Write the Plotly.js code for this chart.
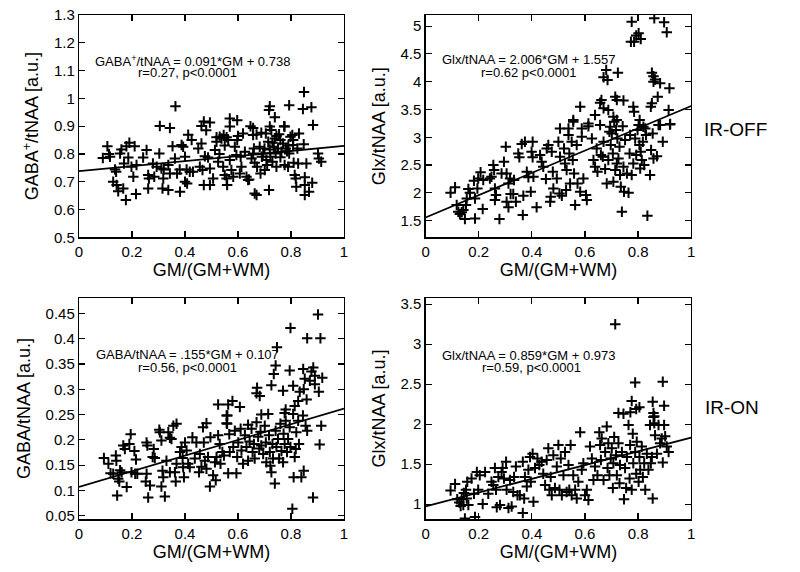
<!DOCTYPE html>
<html>
<head>
<meta charset="utf-8">
<script src="https://cdn.plot.ly/plotly-3.0.1.min.js"></script>
<style>html,body{margin:0;padding:0;background:#fff;}#chart{width:800px;height:572px;}</style>
</head>
<body>
<div id="chart"></div>
<script>
// ---------- DATA ----------
// Panel A: GABA+/tNAA vs GM fraction (IR-OFF)
const gabaOffX = [
0.364,0.305,0.343,0.412,0.462,0.471,0.494,0.48,0.569,0.569,
0.597,0.657,0.72,0.717,0.739,0.793,0.849,0.845,0.877,0.883,
0.776,0.72,0.519,0.557,0.67,0.745,0.808,0.60,0.09,0.107,
0.113,0.117,0.136,0.14,0.129,0.142,0.148,0.167,0.177,0.155,
0.16,0.179,0.19,0.198,0.186,0.205,0.215,0.217,0.21,0.17,
0.242,0.255,0.261,0.264,0.261,0.279,0.284,0.293,0.303,0.311,
0.315,0.318,0.32,0.337,0.337,0.343,0.353,0.362,0.37,0.38,
0.381,0.387,0.393,0.4,0.406,0.4,0.408,0.425,0.418,0.43,
0.45,0.462,0.456,0.466,0.471,0.475,0.487,0.494,0.494,0.506,
0.513,0.519,0.525,0.531,0.538,0.546,0.544,0.55,0.557,0.559,
0.563,0.569,0.575,0.582,0.588,0.594,0.597,0.607,0.613,0.619,
0.626,0.632,0.638,0.642,0.647,0.657,0.651,0.657,0.663,0.663,
0.67,0.672,0.682,0.685,0.688,0.695,0.701,0.705,0.707,0.714,
0.717,0.72,0.722,0.726,0.73,0.735,0.739,0.742,0.745,0.751,
0.755,0.76,0.764,0.77,0.774,0.776,0.78,0.785,0.789,0.793,
0.798,0.805,0.808,0.81,0.814,0.818,0.82,0.827,0.824,0.848,
0.83,0.852,0.852,0.852,0.858,0.868,0.88,0.905,0.914,0.902,
0.70,0.73,0.76,0.79,0.69,0.71,0.66,0.53,0.55,0.61];
const gabaOffY = [
0.972,0.901,0.893,0.869,0.901,0.917,0.913,0.885,0.899,0.928,
0.921,0.893,0.972,0.958,0.932,0.975,1.023,0.962,0.968,0.904,
0.899,0.899,0.86,0.86,0.87,0.865,0.85,0.865,0.785,0.828,
0.80,0.79,0.744,0.736,0.70,0.688,0.666,0.676,0.634,0.802,
0.816,0.828,0.84,0.754,0.787,0.718,0.656,0.76,0.828,0.766,
0.787,0.814,0.724,0.712,0.676,0.766,0.718,0.754,0.802,0.748,
0.676,0.712,0.744,0.67,0.76,0.73,0.828,0.784,0.73,0.744,
0.664,0.832,0.826,0.79,0.744,0.70,0.694,0.85,0.736,0.736,
0.82,0.838,0.754,0.742,0.688,0.792,0.787,0.748,0.688,0.712,
0.814,0.844,0.772,0.862,0.856,0.868,0.754,0.724,0.712,0.688,
0.85,0.778,0.742,0.718,0.826,0.796,0.85,0.73,0.754,0.874,
0.808,0.718,0.706,0.708,0.90,0.868,0.784,0.802,0.768,0.658,
0.652,0.754,0.826,0.73,0.876,0.802,0.742,0.874,0.778,0.844,
0.67,0.816,0.79,0.886,0.772,0.826,0.856,0.802,0.754,0.82,
0.871,0.788,0.808,0.838,0.90,0.76,0.82,0.81,0.754,0.802,
0.862,0.868,0.832,0.768,0.724,0.712,0.682,0.766,0.82,0.835,
0.874,0.716,0.688,0.652,0.766,0.664,0.696,0.784,0.772,0.802,
0.82,0.84,0.85,0.83,0.79,0.76,0.82,0.80,0.83,0.79];

// Panel B: Glx/tNAA vs GM fraction (IR-OFF)
const glxOffX = [
0.776,0.861,0.898,0.908,0.802,0.793,0.773,0.785,0.81,0.68,
0.724,0.67,0.685,0.852,0.858,0.858,0.864,0.883,0.918,0.874,
0.852,0.848,0.915,0.582,0.662,0.657,0.67,0.688,0.714,0.72,
0.745,0.782,0.785,0.806,0.802,0.638,0.613,0.707,0.72,0.556,
0.506,0.538,0.588,0.695,0.883,0.92,0.827,
0.094,0.111,0.117,0.123,0.129,0.136,0.142,0.148,0.152,0.155,
0.161,0.167,0.182,0.186,0.186,0.195,0.198,0.207,0.215,0.217,
0.242,0.248,0.255,0.258,0.261,0.265,0.261,0.278,0.286,0.295,
0.302,0.305,0.312,0.318,0.32,0.305,0.312,0.33,0.333,0.34,
0.349,0.353,0.362,0.368,0.366,0.374,0.381,0.387,0.396,0.399,
0.403,0.403,0.406,0.418,0.431,0.437,0.443,0.453,0.456,0.462,
0.469,0.471,0.475,0.479,0.481,0.494,0.5,0.504,0.506,0.513,
0.521,0.525,0.529,0.531,0.538,0.541,0.544,0.55,0.554,0.556,
0.559,0.563,0.569,0.572,0.582,0.588,0.594,0.604,0.607,0.613,
0.626,0.632,0.638,0.644,0.647,0.657,0.66,0.667,0.67,0.676,
0.682,0.688,0.692,0.697,0.701,0.705,0.707,0.71,0.714,0.717,
0.72,0.722,0.726,0.73,0.732,0.735,0.739,0.742,0.745,0.747,
0.751,0.758,0.764,0.768,0.77,0.776,0.782,0.789,0.793,0.798,
0.805,0.808,0.81,0.814,0.818,0.82,0.823,0.83,0.835,0.845,
0.849,0.855,0.858,0.871,0.877,0.893,0.921];
const glxOffY = [
5.08,5.14,5.07,4.89,4.87,4.83,4.72,4.72,4.77,4.21,
4.16,4.08,4.03,4.16,4.1,4.0,4.04,3.97,3.88,3.73,
3.61,3.55,3.49,3.55,3.67,3.62,3.52,3.49,3.73,3.67,
3.66,3.55,3.46,3.31,3.22,3.40,3.25,3.37,3.31,3.31,
3.16,3.16,3.16,3.19,3.22,3.23,3.16,
2.0,2.10,1.78,1.66,1.62,1.65,1.69,1.53,1.78,1.90,
2.07,2.0,2.22,1.54,1.90,2.08,2.26,2.37,1.71,2.23,
2.26,2.29,2.50,2.41,2.08,1.96,1.87,1.53,2.35,2.56,
2.83,2.35,2.17,2.26,1.98,1.84,1.74,1.98,2.23,1.84,
2.71,2.64,2.88,1.95,1.60,2.92,2.38,2.28,2.02,2.74,
2.92,2.64,2.29,1.74,2.68,2.56,2.47,2.25,2.80,2.86,
1.84,1.93,2.74,2.38,2.08,2.26,2.92,1.99,2.65,1.95,
2.80,2.53,2.05,2.41,3.04,2.71,2.17,2.92,2.59,3.28,
2.35,1.78,2.86,2.17,2.02,3.01,2.26,1.96,1.87,3.20,
2.98,2.59,2.47,2.80,2.38,3.22,2.68,2.65,2.92,2.43,
2.17,2.59,3.10,2.86,3.07,2.71,2.20,3.28,2.41,3.13,
2.53,2.98,2.62,2.83,2.32,2.11,1.66,3.20,2.47,2.02,
2.95,2.35,2.0,2.71,3.04,2.32,2.53,2.98,2.68,3.13,
2.86,2.44,2.74,2.59,2.92,3.19,2.50,3.04,1.59,2.32,
2.77,3.07,2.62,2.66,3.22,2.92,3.24];

// Panel C: GABA/tNAA vs GM fraction (IR-ON)
const gabaOnX = [
0.902,0.798,0.861,0.911,0.747,0.742,0.795,0.735,0.846,0.884,
0.877,0.89,0.918,0.852,0.871,0.89,0.905,0.726,0.672,0.682,
0.67,0.808,0.77,0.833,0.848,0.525,0.563,0.579,0.607,0.814,
0.827,0.859,0.776,0.78,0.688,0.56,0.368,0.481,0.557,0.638,
0.094,0.111,0.119,0.129,0.139,0.141,0.148,0.152,0.144,0.155,
0.161,0.167,0.173,0.18,0.19,0.195,0.198,0.209,0.215,0.212,
0.22,0.255,0.258,0.255,0.252,0.261,0.268,0.278,0.282,0.286,
0.303,0.305,0.311,0.315,0.318,0.311,0.324,0.33,0.337,0.343,
0.343,0.349,0.356,0.362,0.365,0.368,0.381,0.387,0.391,0.393,
0.396,0.4,0.406,0.412,0.418,0.428,0.437,0.443,0.453,0.456,
0.462,0.468,0.471,0.475,0.481,0.487,0.494,0.496,0.506,0.513,
0.516,0.519,0.525,0.531,0.534,0.541,0.547,0.557,0.559,0.563,
0.567,0.569,0.582,0.588,0.594,0.597,0.601,0.61,0.613,0.619,
0.626,0.632,0.638,0.644,0.651,0.655,0.66,0.663,0.67,0.676,
0.68,0.685,0.688,0.695,0.701,0.705,0.707,0.714,0.717,0.72,
0.722,0.726,0.73,0.732,0.739,0.742,0.745,0.751,0.755,0.76,
0.764,0.77,0.772,0.776,0.78,0.785,0.789,0.795,0.798,0.805,
0.808,0.81,0.814,0.818,0.82,0.827,0.83,0.839,0.845,0.848,
0.855,0.861,0.883,0.908,0.914];
const gabaOnY = [
0.448,0.421,0.401,0.401,0.383,0.347,0.337,0.33,0.34,0.343,
0.335,0.327,0.323,0.321,0.317,0.31,0.295,0.308,0.303,0.287,
0.292,0.307,0.297,0.295,0.3,0.27,0.27,0.277,0.265,0.267,
0.277,0.28,0.253,0.26,0.25,0.248,0.232,0.233,0.233,0.23,
0.164,0.153,0.134,0.133,0.169,0.159,0.123,0.118,0.09,0.14,
0.136,0.189,0.182,0.107,0.192,0.211,0.136,0.178,0.161,0.133,
0.133,0.195,0.189,0.133,0.118,0.086,0.11,0.166,0.182,0.164,
0.22,0.215,0.199,0.139,0.126,0.108,0.088,0.159,0.215,0.204,
0.136,0.202,0.228,0.136,0.118,0.153,0.176,0.186,0.164,0.146,
0.126,0.195,0.179,0.153,0.146,0.205,0.163,0.195,0.136,0.172,
0.147,0.225,0.195,0.159,0.143,0.166,0.108,0.205,0.13,0.156,
0.12,0.166,0.209,0.192,0.153,0.176,0.169,0.248,0.232,0.134,
0.211,0.176,0.186,0.218,0.134,0.166,0.195,0.222,0.179,0.153,
0.209,0.186,0.159,0.197,0.222,0.176,0.192,0.163,0.235,0.206,
0.183,0.216,0.189,0.172,0.228,0.195,0.156,0.251,0.209,0.176,
0.149,0.136,0.192,0.163,0.114,0.218,0.186,0.202,0.163,0.232,
0.178,0.156,0.212,0.192,0.238,0.176,0.202,0.225,0.186,0.064,
0.251,0.126,0.166,0.182,0.215,0.238,0.192,0.126,0.248,0.139,
0.228,0.218,0.086,0.191,0.228];

// Panel D: Glx/tNAA vs GM fraction (IR-ON)
const glxOnX = [
0.714,0.789,0.893,0.776,0.805,0.793,0.726,0.771,0.855,0.898,
0.858,0.861,
0.094,0.111,0.119,0.127,0.132,0.136,0.142,0.144,0.152,0.148,
0.155,0.157,0.161,0.173,0.182,0.186,0.193,0.198,0.204,0.215,
0.224,0.236,0.248,0.255,0.261,0.265,0.268,0.274,0.28,0.286,
0.29,0.295,0.303,0.305,0.312,0.318,0.324,0.33,0.333,0.34,
0.346,0.355,0.366,0.366,0.371,0.374,0.381,0.387,0.393,0.396,
0.403,0.406,0.412,0.421,0.428,0.437,0.443,0.45,0.456,0.462,
0.466,0.471,0.475,0.481,0.487,0.494,0.5,0.504,0.509,0.513,
0.519,0.525,0.531,0.538,0.541,0.546,0.55,0.556,0.563,0.569,
0.575,0.582,0.588,0.594,0.6,0.607,0.613,0.619,0.626,0.632,
0.638,0.647,0.654,0.657,0.66,0.663,0.67,0.676,0.682,0.685,
0.688,0.692,0.697,0.701,0.705,0.707,0.71,0.717,0.72,0.726,
0.73,0.732,0.739,0.745,0.747,0.751,0.755,0.758,0.764,0.768,
0.77,0.776,0.78,0.782,0.789,0.793,0.795,0.802,0.805,0.808,
0.814,0.818,0.823,0.827,0.833,0.839,0.845,0.848,0.852,0.855,
0.858,0.861,0.864,0.871,0.877,0.883,0.889,0.893,0.898,0.902,
0.908,0.915];
const glxOnY = [
3.25,2.52,2.53,2.29,2.21,2.19,2.14,2.15,2.28,2.23,
2.14,2.10,
1.17,1.25,1.06,1.02,0.975,1.06,0.99,1.14,1.18,0.82,
1.07,1.28,0.99,1.32,1.13,0.84,1.40,1.18,1.36,1.0,
1.40,1.13,1.28,1.24,1.45,1.18,0.96,1.34,0.99,1.40,
1.45,1.32,1.53,1.18,0.95,1.30,0.97,1.15,1.34,1.47,
1.11,1.11,1.53,0.89,1.07,1.34,1.22,1.43,1.59,1.28,
1.63,1.03,1.45,1.57,1.49,1.53,1.38,1.24,1.55,1.70,
1.18,1.34,1.11,1.61,1.20,1.47,1.74,1.18,1.57,1.11,
1.36,1.65,1.15,1.49,1.18,1.74,1.11,1.36,1.18,1.07,
1.28,1.90,1.43,1.51,1.11,1.18,1.05,1.72,1.57,1.30,
1.47,1.36,1.90,1.74,1.55,1.82,1.30,1.65,1.97,1.45,
1.76,1.36,1.57,1.70,1.20,1.51,1.84,1.61,1.36,1.76,
1.26,1.49,1.65,2.13,1.06,1.45,1.20,1.59,1.99,1.32,
1.74,1.18,1.88,1.51,1.65,1.38,1.78,1.28,1.59,1.43,
1.72,1.34,1.51,1.18,1.63,1.43,1.99,1.51,1.59,1.07,
2.09,2.01,1.86,1.63,1.99,1.76,1.82,1.52,1.99,1.85,
1.72,1.65];

// Regression lines (slope, intercept) and labels
const fitSlope = [0.091, 2.006, 0.155, 0.859];
const fitIntercept = [0.738, 1.557, 0.107, 0.973];
const eqText = [
  "GABA<sup>+</sup>/tNAA = 0.091*GM + 0.738",
  "Glx/tNAA = 2.006*GM + 1.557",
  "GABA/tNAA = .155*GM + 0.107",
  "Glx/tNAA = 0.859*GM + 0.973"];
const statText = ["r=0.27, p<0.0001", "r=0.62 p<0.0001", "r=0.56, p<0.0001", "r=0.59, p<0.0001"];
const yTitles = ["GABA<sup>+</sup>/tNAA [a.u.]", "Glx/tNAA [a.u.]", "GABA/tNAA [a.u.]", "Glx/tNAA [a.u.]"];
const xTitle = "GM/(GM+WM)";
const rowLabels = ["IR-OFF", "IR-ON"];
const fitX = [0, 1];

// ---------- CHART ----------
const FONT = "Liberation Sans, Arial, Helvetica, sans-serif";
const pts = [[gabaOffX, gabaOffY], [glxOffX, glxOffY], [gabaOnX, gabaOnY], [glxOnX, glxOnY]];
const axN = ["", "2", "3", "4"];
const traces = [];
pts.forEach((p, i) => {
  traces.push({
    x: p[0], y: p[1], type: "scatter", mode: "markers",
    xaxis: "x" + axN[i], yaxis: "y" + axN[i],
    marker: {symbol: "cross-thin", size: 7.5, color: "black", line: {color: "black", width: 2}},
    hoverinfo: "skip"
  });
  traces.push({
    x: fitX, y: fitX.map(v => fitSlope[i] * v + fitIntercept[i]),
    type: "scatter", mode: "lines", xaxis: "x" + axN[i], yaxis: "y" + axN[i],
    line: {color: "black", width: 1.8}, hoverinfo: "skip"
  });
});

function xa(domain, anchor) {
  return {
    domain: domain, anchor: anchor, range: [0, 1], dtick: 0.2, tick0: 0,
    showline: true, mirror: "ticks", linecolor: "black", linewidth: 1.2,
    ticks: "inside", ticklen: 6, tickcolor: "black", tickwidth: 1.2,
    showgrid: false, zeroline: false,
    tickfont: {family: FONT, size: 15, color: "black"},
    title: {text: xTitle, font: {family: FONT, size: 18, color: "black"}, standoff: 4}
  };
}
function ya(domain, anchor, range, dtick, title) {
  return {
    domain: domain, anchor: anchor, range: range, dtick: dtick, tick0: 0,
    showline: true, mirror: "ticks", linecolor: "black", linewidth: 1.2,
    ticks: "inside", ticklen: 6, tickcolor: "black", tickwidth: 1.2,
    showgrid: false, zeroline: false,
    tickfont: {family: FONT, size: 15, color: "black"},
    title: {text: title, font: {family: FONT, size: 18, color: "black"}, standoff: 10}
  };
}
const xL = [0.09875, 0.43], xR = [0.532, 0.864];
const yT = [0.5851, 0.9738], yB = [0.0921, 0.4795];

const annPos = [
  {ax: "x", ay: "y", e: [0.43, 1.134], s: [0.411, 1.093]},
  {ax: "x2", ay: "y2", e: [0.389, 4.40], s: [0.386, 4.17]},
  {ax: "x3", ay: "y3", e: [0.408, 0.368], s: [0.411, 0.344]},
  {ax: "x4", ay: "y4", e: [0.389, 2.855], s: [0.397, 2.71]}
];
const annotations = [];
annPos.forEach((a, i) => {
  annotations.push({xref: a.ax, yref: a.ay, x: a.e[0], y: a.e[1], text: eqText[i], showarrow: false,
    xanchor: "center", yanchor: "middle", font: {family: FONT, size: 13, color: "black"}});
  annotations.push({xref: a.ax, yref: a.ay, x: a.s[0], y: a.s[1], text: statText[i], showarrow: false,
    xanchor: "center", yanchor: "middle", font: {family: FONT, size: 13, color: "black"}});
});
annotations.push({xref: "paper", yref: "paper", x: 0.919, y: 0.773, text: rowLabels[0], showarrow: false,
  xanchor: "center", yanchor: "middle", font: {family: FONT, size: 19, color: "black"}});
annotations.push({xref: "paper", yref: "paper", x: 0.915, y: 0.287, text: rowLabels[1], showarrow: false,
  xanchor: "center", yanchor: "middle", font: {family: FONT, size: 19, color: "black"}});

const layout = {
  width: 800, height: 572,
  margin: {l: 0, r: 0, t: 0, b: 0},
  paper_bgcolor: "white", plot_bgcolor: "white",
  showlegend: false,
  font: {family: FONT, color: "black"},
  xaxis: xa(xL, "y"), yaxis: ya(yT, "x", [0.5, 1.3], 0.1, yTitles[0]),
  xaxis2: xa(xR, "y2"), yaxis2: ya(yT, "x2", [1.2, 5.2], 0.5, yTitles[1]),
  xaxis3: xa(xL, "y3"), yaxis3: ya(yB, "x3", [0.043, 0.481], 0.05, yTitles[2]),
  xaxis4: xa(xR, "y4"), yaxis4: ya(yB, "x4", [0.81, 3.58], 0.5, yTitles[3]),
  annotations: annotations
};
Plotly.newPlot("chart", traces, layout, {staticPlot: true, displayModeBar: false});
</script>
</body>
</html>
